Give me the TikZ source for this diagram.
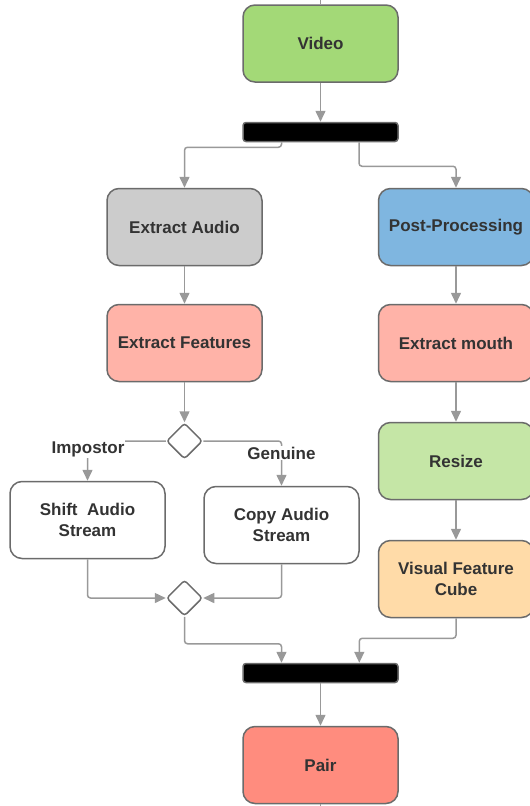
\documentclass[tikz,border=0pt]{standalone}
\usepackage{fontspec}
\setmainfont{Liberation Sans}
\usetikzlibrary{arrows.meta,shapes.geometric}
\definecolor{bordc}{HTML}{6B6B6B}
\definecolor{connc}{HTML}{999999}
\definecolor{txtc}{HTML}{333333}
\definecolor{cvideo}{HTML}{A3D977}
\definecolor{caudio}{HTML}{CCCCCC}
\definecolor{cpost}{HTML}{7FB6E0}
\definecolor{cpink}{HTML}{FFB3A8}
\definecolor{cresize}{HTML}{C5E6A6}
\definecolor{ccube}{HTML}{FFDBA8}
\definecolor{cpair}{HTML}{FF8C7E}
\tikzset{
  procbox/.style={draw=bordc, line width=1.5pt, rounded corners=12pt,
    minimum width=155pt, minimum height=77pt, inner sep=0pt, align=center,
    text=txtc, font=\fontsize{17}{21}\selectfont\bfseries},
  syncbar/.style={draw=bordc, line width=1.5pt, fill=black, rounded corners=3pt,
    minimum width=155pt, minimum height=19pt, inner sep=0pt},
  decis/.style={draw=bordc, line width=1.5pt, fill=white, diamond, rounded corners=3pt,
    minimum width=36pt, minimum height=36pt, inner sep=0pt},
  conn/.style={draw=connc, line width=1.5pt, rounded corners=3pt,
    -{Triangle[width=10pt,length=11pt]}},
  stub/.style={draw=connc, line width=1.5pt},
  lbl/.style={fill=white, inner sep=1pt, text=txtc, font=\fontsize{17}{21}\selectfont\bfseries}
}
\begin{document}
\begin{tikzpicture}[x=1pt,y=-1pt]
\useasboundingbox (0,0) rectangle (530,806);
\clip (0,0) rectangle (530,806);
\node[procbox, fill=cvideo] (video) at (320.5,43.5) {Video};
\node[syncbar] (bar1) at (320.5,132) {};
\node[procbox, fill=caudio] (audio) at (184.5,227) {Extract Audio};
\node[procbox, fill=cpost] (post) at (456,227) {Post-Processing};
\node[procbox, fill=cpink] (feat) at (184.5,343) {Extract Features};
\node[procbox, fill=cpink] (mouth) at (456,343) {Extract mouth};
\node[decis] (d1) at (184.5,441) {};
\node[procbox, fill=white] (shift) at (87.5,520) {Shift\ \ Audio\\Stream};
\node[procbox, fill=white] (copy) at (281.5,525) {Copy Audio\\Stream};
\node[procbox, fill=cresize] (resize) at (456,461) {Resize};
\node[procbox, fill=ccube] (cube) at (456,579) {Visual Feature\\Cube};
\node[decis] (d2) at (184.5,598) {};
\node[syncbar] (bar2) at (320.5,673) {};
\node[procbox, fill=cpair] (pair) at (320.5,765) {Pair};
\coordinate (topend) at (320.5,0);
\coordinate (botend) at (320.5,806);

\draw[stub] (topend) -- (video.north);
\draw[stub] (pair.south) -- (botend);
\draw[conn] (video.south) -- (bar1.north);
\draw[conn] ([xshift=-39pt]bar1.south) -- ++(0,5) -| (audio.north);
\draw[conn] ([xshift=38.5pt]bar1.south) -- ++(0,24) -| (post.north);
\draw[conn] (audio.south) -- (feat.north);
\draw[conn] (post.south) -- (mouth.north);
\draw[conn] (feat.south) -- (d1.north);
\draw[conn] (mouth.south) -- (resize.north);
\draw[conn] (resize.south) -- (cube.north);
\draw[conn] (d1.west) -| (shift.north);
\draw[conn] (d1.east) -| (copy.north);
\node[lbl] (limp) at (88,449) {Impostor};
\node[lbl] (lgen) at (281.5,453) {Genuine};
\draw[conn] (shift.south) |- (d2.west);
\draw[conn] (copy.south) |- (d2.east);
\draw[conn] (d2.south) -- ++(0,27) -| ([xshift=-39pt]bar2.north);
\draw[conn] (cube.south) -- ++(0,20) -| ([xshift=38.8pt]bar2.north);
\draw[conn] (bar2.south) -- (pair.north);
\end{tikzpicture}
\end{document}
